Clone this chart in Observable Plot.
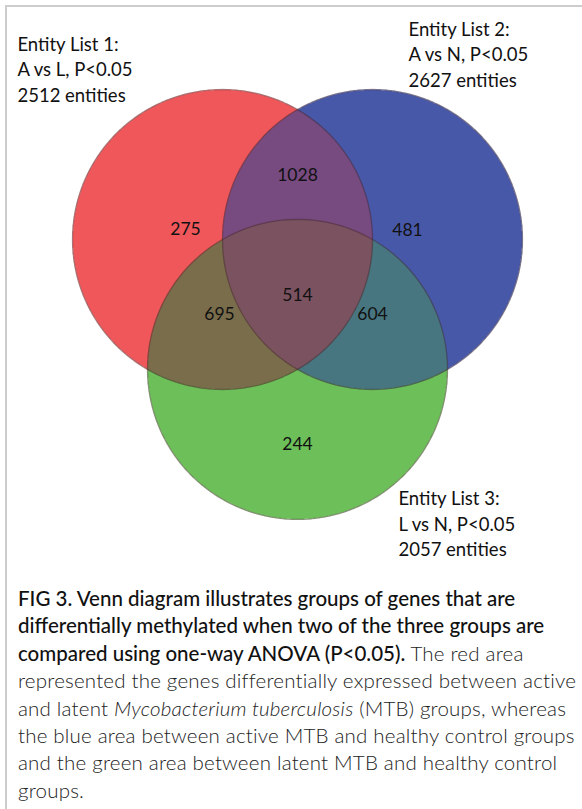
<!DOCTYPE html>
<html><head><meta charset="utf-8">
<script src="https://cdn.jsdelivr.net/npm/d3@7"></script>
<script src="https://cdn.jsdelivr.net/npm/@observablehq/plot@0.6"></script>
<style>
html,body{margin:0;padding:0;background:#fff;}
#fig{position:relative;width:582px;height:809px;overflow:hidden;font-family:Lato,"Open Sans",sans-serif;}
#frame{position:absolute;left:5px;top:5px;width:700px;height:900px;border-top:2px solid #cdcdcd;border-left:2px solid #cdcdcd;z-index:2;pointer-events:none;}
#chart{position:absolute;left:0;top:0;}
#caption{position:absolute;left:18px;top:585px;font-size:20.5px;line-height:27.4px;color:#222;white-space:nowrap;}
#caption .b{font-weight:500;color:#111;}
#caption .l{font-weight:300;letter-spacing:0.2px;}
</style></head>
<body><div id="fig"><div id="chart"></div><div id="caption"></div><div id="frame"></div></div>
<script>
// ---- data ----
const setNames = ["Entity List 1", "Entity List 2", "Entity List 3"];
const setComparisons = ["A vs L, P<0.05", "A vs N, P<0.05", "L vs N, P<0.05"];
const setTotals = [2512, 2627, 2057];
// regions: membership keys (set indices) and counts
const regionKeys = ["0", "1", "2", "01", "02", "12", "012"];
const regionCounts = [275, 481, 244, 1028, 695, 604, 514];

// ---- styles ----
const regionColors = {
  "0": "#ef575a", "1": "#4858a8", "2": "#6dbf59",
  "01": "#774a80", "02": "#7a6d4c", "12": "#487680", "012": "#7b5260"
};

// ---- layout (unit = circle radius) ----
const W = 582, H = 584;
const pxPerUnit = 150, originX = 297, originY = 282.3;
const centerDist = 1 / Math.sqrt(3);
const setAngles = [150, 30, 270];
const centers = setAngles.map(a => [centerDist * Math.cos(a * Math.PI / 180), centerDist * Math.sin(a * Math.PI / 180)]);
const regionLabelPos = {
  "0": [-0.747, 0.355], "1": [0.733, 0.349], "2": [0, -1.078],
  "01": [0, 0.715], "02": [-0.52, -0.21], "12": [0.50, -0.21], "012": [0, -0.085]
};
const setLabelPos = [[-1.867, 1.432], [0.74, 1.532], [0.673, -1.598]];

const xDomain = [-originX / pxPerUnit, (W - originX) / pxPerUnit];
const yDomain = [(originY - H) / pxPerUnit, originY / pxPerUnit];

const membership = (x, y) => centers.map(([cx, cy], i) => ((x - cx) ** 2 + (y - cy) ** 2 <= 1 ? String(i) : "")).join("");

const regionRows = regionKeys.map((k, i) => ({key: k, count: regionCounts[i], x: regionLabelPos[k][0], y: regionLabelPos[k][1]}));
const setRows = setNames.map((n, i) => ({label: `${n}:\n${setComparisons[i]}\n${setTotals[i]} entities`, x: setLabelPos[i][0], y: setLabelPos[i][1]}));
const outline = centers.flatMap(([cx, cy], i) => d3.range(0, 361, 2).map(a => ({set: i, x: cx + Math.cos(a * Math.PI / 180), y: cy + Math.sin(a * Math.PI / 180)})));

const chart = Plot.plot({
  width: W, height: H, margin: 0,
  x: {domain: xDomain, axis: null},
  y: {domain: yDomain, axis: null},
  color: {type: "identity"},
  style: {fontFamily: "Lato, 'Open Sans', sans-serif", background: "transparent"},
  marks: [
    Plot.raster({
      x1: xDomain[0], x2: xDomain[1], y1: yDomain[0], y2: yDomain[1],
      pixelSize: 0.5,
      fill: (x, y) => { const m = membership(x, y); return m ? regionColors[m] : null; }
    }),
    Plot.line(outline, {x: "x", y: "y", z: "set", stroke: "#3a2020", strokeOpacity: 0.4, strokeWidth: 1.3}),
    Plot.text(regionRows, {x: "x", y: "y", text: d => String(d.count), fontSize: 17.5, fill: "#111"}),
    Plot.text(setRows, {x: "x", y: "y", text: "label", textAnchor: "start", lineHeight: 1.38, fontSize: 18.5, fill: "#111"})
  ]
});
document.getElementById("chart").appendChild(chart);

// ---- caption ----
const captionLines = [
  [["b", "FIG 3. Venn diagram illustrates groups of genes that are"]],
  [["b", "differentially methylated when two of the three groups are"]],
  [["b", "compared using one-way ANOVA (P<0.05)."], ["l", " The red area"]],
  [["l", "represented the genes differentially expressed between active"]],
  [["l", "and latent "], ["li", "Mycobacterium tuberculosis"], ["l", " (MTB) groups, whereas"]],
  [["l", "the blue area between active MTB and healthy control groups"]],
  [["l", "and the green area between latent MTB and healthy control"]],
  [["l", "groups."]]
];
const cap = document.getElementById("caption");
for (const line of captionLines) {
  const div = document.createElement("div");
  for (const [cls, txt] of line) {
    const s = document.createElement("span");
    s.className = cls === "li" ? "l" : cls;
    if (cls === "li") s.style.fontStyle = "italic";
    s.textContent = txt;
    div.appendChild(s);
  }
  cap.appendChild(div);
}
</script>
</body></html>
